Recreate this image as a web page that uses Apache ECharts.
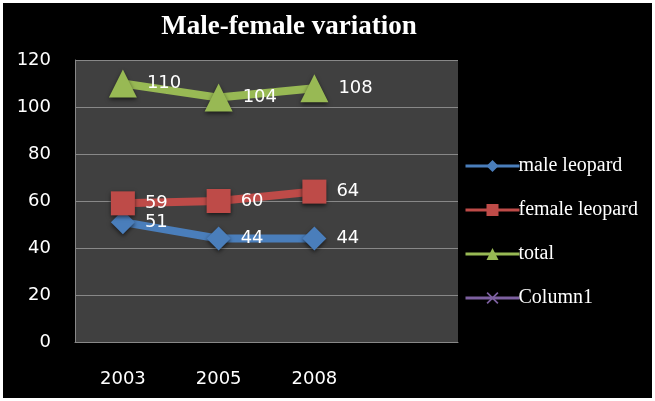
<!DOCTYPE html>
<html>
<head>
<meta charset="utf-8">
<script src="https://cdn.jsdelivr.net/npm/echarts@6/dist/echarts.min.js"></script>
<style>
  html, body { margin: 0; padding: 0; background: #fff; }
  #chart { position: absolute; left: 3px; top: 3px; width: 649px; height: 395px; background: #000; }
</style>
</head>
<body>
<div id="chart"></div>
<script>
// categories: 4th slot belongs to the empty Column1 series
const years = ['2003', '2005', '2008', ''];
const maleLeopard = [51, 44, 44];
const femaleLeopard = [59, 60, 64];
const total = [110, 104, 108];
const column1 = [];
const yTicks = [0, 20, 40, 60, 80, 100, 120];

const chart = echarts.init(document.getElementById('chart'));

function lineSeries(name, data, color, symbol, size) {
  return {
    name: name,
    type: 'line',
    data: data,
    symbol: symbol,
    symbolSize: size,
    lineStyle: { color: color, width: 8 },
    itemStyle: { color: color, shadowColor: 'rgba(0,0,0,0.6)', shadowBlur: 4, shadowOffsetY: 2 },
    label: {
      show: true,
      position: 'right',
      distance: 10,
      color: '#fff',
      fontFamily: 'DejaVu Sans',
      fontSize: 18
    },
    emphasis: { disabled: true },
    animation: false
  };
}

chart.setOption({
  backgroundColor: '#000',
  animation: false,
  title: {
    text: 'Male-female variation',
    left: 281,
    top: 6,
    textAlign: 'center',
    textStyle: { color: '#fff', fontFamily: 'Liberation Serif', fontWeight: 'bold', fontSize: 27 }
  },
  legend: {
    orient: 'vertical',
    left: 456,
    top: 148,
    itemGap: 24,
    itemWidth: 54,
    itemHeight: 15,
    lineStyle: { width: 3 },
    itemStyle: { shadowBlur: 0 },
    textStyle: { color: '#fff', fontFamily: 'Liberation Serif', fontSize: 20, padding: [0, 0, 0, -6] },
    data: ['male leopard', 'female leopard', 'total', 'Column1']
  },
  grid: { left: 72, top: 57, width: 383, height: 282, containLabel: false },
  xAxis: {
    type: 'category',
    data: years,
    boundaryGap: true,
    axisLine: { lineStyle: { color: '#888', width: 1 } },
    axisTick: { show: false },
    axisLabel: { color: '#fff', fontFamily: 'DejaVu Sans', fontSize: 18, margin: 28 }
  },
  yAxis: {
    type: 'value',
    min: yTicks[0],
    max: yTicks[yTicks.length - 1],
    interval: 20,
    axisLine: { show: true, lineStyle: { color: '#888' } },
    axisTick: { show: false },
    axisLabel: { color: '#fff', fontFamily: 'DejaVu Sans', fontSize: 18, margin: 24 },
    splitLine: { lineStyle: { color: '#888', width: 1 } },
    splitArea: { show: true, areaStyle: { color: ['#404040', '#404040'] } }
  },
  series: [
    lineSeries('male leopard', maleLeopard, '#4a7ebb', 'diamond', 24),
    lineSeries('female leopard', femaleLeopard, '#be4b48', 'rect', 24),
    lineSeries('total', total, '#98b954', 'triangle', 28),
    lineSeries('Column1', column1, '#7d60a0',
      'path://M0,1L1,0L5,4L9,0L10,1L6,5L10,9L9,10L5,6L1,10L0,9L4,5Z', 14)
  ]
});
</script>
</body>
</html>
